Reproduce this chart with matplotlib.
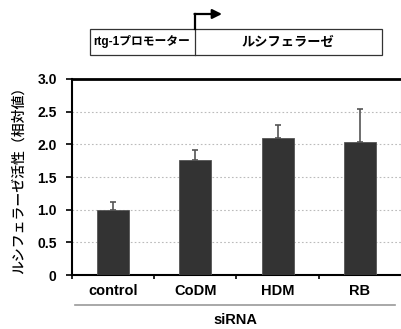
import matplotlib.pyplot as plt
from matplotlib.patches import Rectangle, FancyArrowPatch

plt.rcParams['font.family'] = ['Liberation Sans', 'Noto Sans CJK JP', 'DejaVu Sans']

categories = ['control', 'CoDM', 'HDM', 'RB']
values = [1.00, 1.76, 2.10, 2.04]
errors = [0.12, 0.15, 0.20, 0.50]
y_ticks = [0, 0.5, 1.0, 1.5, 2.0, 2.5, 3.0]
y_tick_labels = ['0', '0.5', '1.0', '1.5', '2.0', '2.5', '3.0']

fig = plt.figure(figsize=(4.01, 3.29), dpi=100)
ax = fig.add_axes([0.1796, 0.164, 0.820, 0.596])

x = range(len(categories))
ax.bar(x, values, width=0.39, color='#333333', edgecolor='#555555', linewidth=0.6, zorder=3)
ax.errorbar(x, values, yerr=[[0] * len(errors), errors], fmt='none', ecolor='#555555',
            elinewidth=1.2, capsize=2.5, capthick=1.2, zorder=2)

ax.set_xlim(-0.5, 3.5)
ax.set_ylim(0, 3.0)
ax.set_yticks(y_ticks)
ax.set_yticklabels(y_tick_labels, fontsize=10, fontweight='bold')
for yv in y_ticks[1:-1]:
    ax.axhline(yv, color='#bbbbbb', linestyle=(0, (1.5, 2)), linewidth=0.8, zorder=1)

ax.set_xticks([-0.5, 0.5, 1.5, 2.5])
ax.set_xticklabels([])
ax.tick_params(axis='x', direction='out', length=3, width=1.2)
ax.tick_params(axis='y', direction='out', length=4, width=1.2, pad=7)
for i, c in enumerate(categories):
    ax.text(i, -0.13, c, ha='center', va='top', fontsize=10.5, fontweight='bold')

ax.spines['top'].set_linewidth(2.0)
ax.spines['left'].set_linewidth(1.5)
ax.spines['bottom'].set_linewidth(1.5)
ax.spines['right'].set_color('#cccccc')
ax.spines['right'].set_linewidth(0.8)

ax.set_ylabel('ルシフェラーゼ活性（相対値）', fontsize=10, family=['Noto Sans CJK JP'],
              fontweight='medium', labelpad=8)

# group line and label
fig.add_artist(plt.Line2D([75 / 401, 395 / 401], [1 - 305 / 329, 1 - 305 / 329],
                          color='#999999', linewidth=1.2))
fig.text(235 / 401, 1 - 320 / 329, 'siRNA', ha='center', va='center', fontsize=10.5, fontweight='bold')

# construct diagram
W, H = 401, 329
def fx(px):
    return px / W
def fy(py):
    return 1 - py / H

fig.add_artist(Rectangle((fx(90), fy(55)), fx(382) - fx(90), fy(29) - fy(55),
                         fill=False, edgecolor='#333333', linewidth=0.9, transform=fig.transFigure))
fig.add_artist(plt.Line2D([fx(195), fx(195)], [fy(55), fy(29)], color='#333333', linewidth=0.9))
fig.add_artist(plt.Line2D([fx(195), fx(195)], [fy(29), fy(14)], color='black', linewidth=1.6))
fig.add_artist(FancyArrowPatch((fx(194.5), fy(14)), (fx(222), fy(14)), transform=fig.transFigure,
                               arrowstyle='-|>', mutation_scale=14, color='black', linewidth=1.6,
                               shrinkA=0, shrinkB=0))
fig.text(fx(142), fy(42), 'rtg-1プロモーター', ha='center', va='center', fontsize=8.5,
         fontweight='bold', family=['Liberation Sans', 'Noto Sans CJK JP'])
fig.text(fx(288), fy(42), 'ルシフェラーゼ', ha='center', va='center', fontsize=9.5,
         fontweight='bold', family=['Noto Sans CJK JP'])

fig.savefig('out.png', dpi=100)
